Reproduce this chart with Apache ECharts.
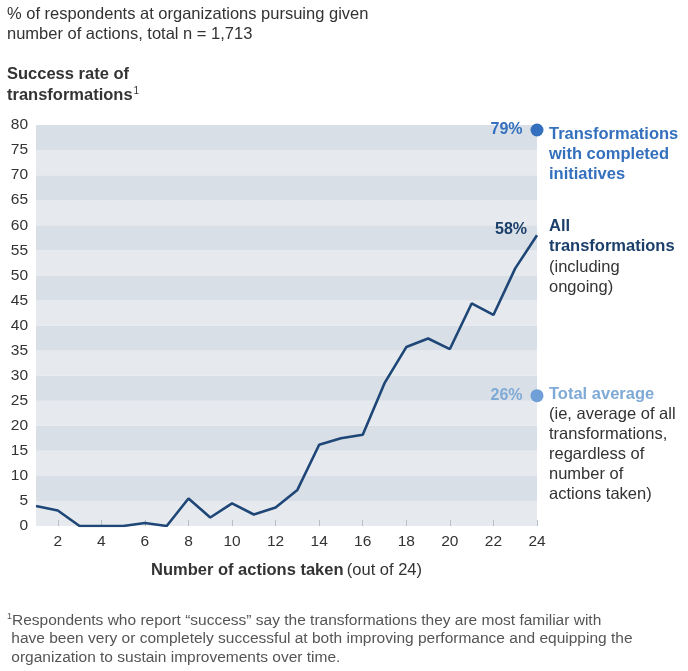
<!DOCTYPE html>
<html>
<head>
<meta charset="utf-8">
<script src="https://cdn.jsdelivr.net/npm/echarts@6/dist/echarts.min.js"></script>
<style>
html,body{margin:0;padding:0;background:#fff;}
#chart{width:688px;height:671px;}
</style>
</head>
<body>
<div id="chart"></div>
<script>
var categories = ['1','2','3','4','5','6','7','8','9','10','11','12','13','14','15','16','17','18','19','20','21','22','23','24'];
var allTransformations = [4.0, 3.1, 0, 0, 0, 0.6, 0, 5.5, 1.7, 4.5, 2.3, 3.7, 7.2, 16.2, 17.5, 18.2, 28.5, 35.7, 37.4, 35.3, 44.4, 42.1, 51.4, 58];
var completedValue = 79;
var averageValue = 26;
var yTicks = [0,5,10,15,20,25,30,35,40,45,50,55,60,65,70,75,80];

var FONT = 'Liberation Sans, Arial, sans-serif';
var chart = echarts.init(document.getElementById('chart'), null, {renderer:'canvas'});

var lastIdx = allTransformations.length - 1;
var lastValue = allTransformations[lastIdx];

var option = {
  animation: false,
  textStyle: {fontFamily: FONT},
  grid: {left: 36, right: 151, top: 125, bottom: 145, containLabel: false},
  title: [
    {text: '% of respondents at organizations pursuing given\nnumber of actions, total n = 1,713', left: 2, top: 0,
     textStyle: {fontSize: 16.5, fontWeight: 'normal', color: '#333', lineHeight: 19.5, fontFamily: FONT}},
    {text: '{b|Success rate of}\n{b|transformations}{s|1}', left: 2, top: 59,
     textStyle: {rich: {
       b: {fontSize: 16.5, fontWeight: 'bold', color: '#333', lineHeight: 21, fontFamily: FONT},
       s: {fontSize: 10, fontWeight: 'normal', color: '#333', lineHeight: 21, padding: [0,0,9,1], fontFamily: FONT}
     }}},
    {text: '{s|1}{t|Respondents who report \u201csuccess\u201d say the transformations they are most familiar with}\n{t| have been very or completely successful at both improving performance and equipping the}\n{t| organization to sustain improvements over time.}', left: 2, top: 606,
     textStyle: {rich: {
       t: {fontSize: 15.5, fontWeight: 'normal', color: '#555', lineHeight: 18.5, fontFamily: FONT},
       s: {fontSize: 9, fontWeight: 'normal', color: '#555', lineHeight: 18.5, padding: [0,0,8,0], fontFamily: FONT}
     }}}
  ],
  xAxis: {
    type: 'category', data: categories, boundaryGap: false,
    axisLine: {show: false},
    axisTick: {show: true, inside: true, length: 6, lineStyle: {color: '#b8bec5'},
      interval: function(i){ return (i + 1) % 2 === 0; }},
    axisLabel: {interval: function(i){ return (i + 1) % 2 === 0; }, color: '#333', fontSize: 15.5, margin: 8, fontFamily: FONT},
    splitLine: {show: false},
    name: '{b|Number of actions taken} {n|(out of 24)}', nameLocation: 'middle', nameGap: 36,
    nameTextStyle: {rich: {
      b: {fontSize: 16.5, fontWeight: 'bold', color: '#333', fontFamily: FONT},
      n: {fontSize: 16.5, color: '#333', fontFamily: FONT}
    }}
  },
  yAxis: {
    type: 'value', min: 0, max: 80, interval: 5,
    axisLine: {show: false}, axisTick: {show: false},
    axisLabel: {color: '#333', fontSize: 15.5, margin: 8, fontFamily: FONT,
      formatter: function(v){ return yTicks.indexOf(v) >= 0 ? String(v) : ''; }},
    splitLine: {show: false},
    splitArea: {show: true, areaStyle: {color: ['#e6eaee', '#d8dfe6']}}
  },
  series: [
    {type: 'line', data: allTransformations, symbol: 'none', lineStyle: {color: '#1e4676', width: 2.6}, z: 3},
    {type: 'scatter', z: 4,
      data: [
        {value: [categories[lastIdx], completedValue], symbolSize: 13, itemStyle: {color: '#3470bd', opacity: 1},
         label: {show: true, position: 'left', distance: 8, formatter: completedValue + '%', color: '#3470bd', fontWeight: 'bold', fontSize: 16, fontFamily: FONT}},
        {value: [categories[lastIdx], averageValue], symbolSize: 13, itemStyle: {color: '#6f9fd6', opacity: 1},
         label: {show: true, position: 'left', distance: 8, formatter: averageValue + '%', color: '#7faad6', fontWeight: 'bold', fontSize: 16, fontFamily: FONT}}
      ]},
    {type: 'scatter', z: 5, symbolSize: 2, itemStyle: {color: 'rgba(0,0,0,0)', opacity: 1},
      data: [
        {value: [categories[lastIdx], lastValue],
         label: {show: true, opacity: 1, position: 'left', distance: 9, offset: [0, -6], formatter: lastValue + '%', color: '#1b3f6a', fontWeight: 'bold', fontSize: 16, fontFamily: FONT}}
      ]}
  ],
  graphic: [
    {type: 'text', left: 549, top: 124, style: {text: 'Transformations\nwith completed\ninitiatives', fill: '#3470bd', font: 'bold 16.5px ' + FONT, lineHeight: 20}},
    {type: 'text', left: 549, top: 218, style: {text: '{b|All}\n{b|transformations}\n{n|(including}\n{n|ongoing)}',
      rich: {b: {fill: '#1b3f6a', font: 'bold 16.5px ' + FONT, lineHeight: 20.3}, n: {fill: '#333', font: '16.5px ' + FONT, lineHeight: 20.3}}}},
    {type: 'text', left: 549, top: 386, style: {text: '{b|Total average}\n{n|(ie, average of all}\n{n|transformations,}\n{n|regardless of}\n{n|number of}\n{n|actions taken)}',
      rich: {b: {fill: '#7faad6', font: 'bold 16.5px ' + FONT, lineHeight: 20}, n: {fill: '#333', font: '16.5px ' + FONT, lineHeight: 20}}}}
  ]
};
chart.setOption(option);
</script>
</body>
</html>
